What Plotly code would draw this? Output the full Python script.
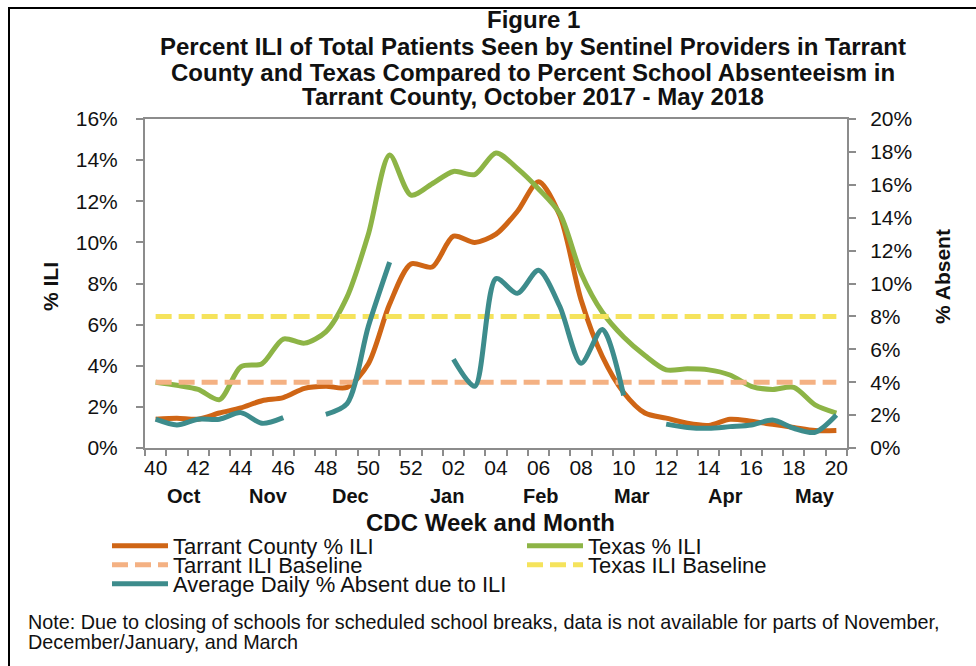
import plotly.graph_objects as go

# ---------------- data ----------------
weeks = ["40", "41", "42", "43", "44", "45", "46", "47", "48", "49", "50", "51", "52",
         "01", "02", "03", "04", "05", "06", "07", "08", "09", "10",
         "11", "12", "13", "14", "15", "16", "17", "18", "19", "20"]

tarrant_ili = [1.4, 1.45, 1.4, 1.7, 1.95, 2.3, 2.45, 2.9, 3.0, 2.95, 4.1, 7.0, 8.95,
               8.8, 10.3, 10.0, 10.4, 11.5, 12.95, 11.3, 7.2, 4.45, 2.7,
               1.7, 1.45, 1.2, 1.1, 1.4, 1.3, 1.15, 1.0, 0.85, 0.85]

texas_ili = [3.2, 3.05, 2.85, 2.35, 3.95, 4.1, 5.3, 5.1, 5.65, 7.35, 10.4, 14.25, 12.3,
             12.85, 13.45, 13.3, 14.35, 13.6, 12.6, 11.4, 8.5, 6.6, 5.4,
             4.5, 3.8, 3.85, 3.8, 3.55, 3.0, 2.85, 2.95, 2.1, 1.7]

absent = [1.75, 1.4, 1.75, 1.75, 2.15, 1.5, 1.85, None, 2.05, 2.7, 7.4, 11.3, None,
          None, 5.4, 3.75, 10.3, 9.4, 10.8, 8.6, 5.15, 7.2, 3.2,
          None, 1.45, 1.25, 1.2, 1.3, 1.4, 1.7, 1.2, 0.95, 2.0]

tarrant_baseline = 3.2
texas_baseline = 6.4

months = ["Oct", "Nov", "Dec", "Jan", "Feb", "Mar", "Apr", "May"]
month_label_pos = [1.35, 5.3, 9.15, 13.7, 18.1, 22.4, 26.8, 31.0]   # position along week axis

left_ticks = [0, 2, 4, 6, 8, 10, 12, 14, 16]
right_ticks = [0, 2, 4, 6, 8, 10, 12, 14, 16, 18, 20]

title_lines = ["Figure 1",
               "Percent ILI of Total Patients Seen by Sentinel Providers in Tarrant",
               "County and Texas Compared to Percent School Absenteeism in",
               "Tarrant County, October 2017 - May 2018"]
note_lines = ["Note: Due to closing of schools for scheduled school breaks, data is not available for parts of November,",
              "December/January, and March"]

# ---------------- layout geometry ----------------
W, H = 976, 666
L, R, T, B = 145, 847, 119, 448
FONT = "Liberation Sans, Arial, sans-serif"

def px(x):
    return (x - L) / (R - L)

def py(y):
    return (B - y) / (B - T)

C_TAR = "#CF6515"
C_TEX = "#8DB446"
C_ABS = "#3D8C8C"
C_TARB = "#F4B183"
C_TEXB = "#F5E35C"
AX = "#8C8C8C"

xi = list(range(len(weeks)))

fig = go.Figure()
fig.add_trace(go.Scatter(x=xi, y=tarrant_ili, name="Tarrant County % ILI", mode="lines",
                         line=dict(color=C_TAR, width=5, shape="spline", smoothing=0.8),
                         legend="legend"))
fig.add_trace(go.Scatter(x=xi, y=texas_ili, name="Texas % ILI", mode="lines",
                         line=dict(color=C_TEX, width=5, shape="spline", smoothing=0.8),
                         legend="legend2"))
fig.add_trace(go.Scatter(x=xi, y=[tarrant_baseline] * len(xi), name="Tarrant ILI Baseline", mode="lines",
                         line=dict(color=C_TARB, width=5, dash="16px,7px"),
                         legend="legend3"))
fig.add_trace(go.Scatter(x=xi, y=[texas_baseline] * len(xi), name="Texas ILI Baseline", mode="lines",
                         line=dict(color=C_TEXB, width=5, dash="16px,7px"),
                         legend="legend4"))
fig.add_trace(go.Scatter(x=xi, y=absent, name="Average Daily % Absent due to ILI", mode="lines",
                         line=dict(color=C_ABS, width=5, shape="spline", smoothing=0.8),
                         connectgaps=False, yaxis="y2", legend="legend5"))

tick_font = dict(family=FONT, size=21, color="#111")

fig.update_layout(
    width=W, height=H,
    margin=dict(l=L, r=W - R, t=T, b=H - B),
    paper_bgcolor="white", plot_bgcolor="white",
    font=dict(family=FONT, color="#111"),
    xaxis=dict(range=[-0.5, len(weeks) - 0.5], tickvals=xi[::2], ticktext=weeks[::2],
               ticks="", showgrid=False, zeroline=False, showline=True, linecolor=AX,
               linewidth=2, mirror=True, tickfont=tick_font,
               minor=dict(ticks="outside", ticklen=6, tickcolor=AX, tickwidth=2,
                          tick0=-0.5, dtick=1, showgrid=False)),
    yaxis=dict(range=[0, 16], tickvals=left_ticks, ticktext=[f"{v}%" for v in left_ticks],
               ticks="outside", ticklen=7, tickcolor=AX, tickwidth=2,
               showgrid=False, zeroline=False, showline=True, linecolor=AX, linewidth=2,
               tickfont=tick_font, ticklabelstandoff=14),
    yaxis2=dict(range=[0, 20], tickvals=right_ticks, ticktext=[f"{v}%" for v in right_ticks],
                overlaying="y", side="right", ticks="outside", ticklen=7, tickcolor=AX,
                tickwidth=2, showgrid=False, zeroline=False, showline=True, linecolor=AX,
                linewidth=2, tickfont=tick_font, ticklabelstandoff=10),
    showlegend=True,
)

leg_common = dict(orientation="h", xref="container", yref="container", xanchor="left",
                  yanchor="middle", itemwidth=56,
                  font=dict(family=FONT, size=22, color="#111"), bgcolor="rgba(0,0,0,0)",
                  itemclick=False, itemdoubleclick=False)
col1, col2 = 107, 522
rows = [546, 565, 584]
fig.update_layout(
    legend=dict(x=col1 / W, y=1 - rows[0] / H, **leg_common),
    legend2=dict(x=col2 / W, y=1 - rows[0] / H, **leg_common),
    legend3=dict(x=col1 / W, y=1 - rows[1] / H, **leg_common),
    legend4=dict(x=col2 / W, y=1 - rows[1] / H, **leg_common),
    legend5=dict(x=col1 / W, y=1 - rows[2] / H, **leg_common),
)

ann = []
for line, yc in zip(title_lines, [20, 46, 72, 97]):
    ann.append(dict(text=f"<b>{line}</b>", x=px(533), y=py(yc), xref="paper", yref="paper",
                    xanchor="center", yanchor="middle", showarrow=False,
                    font=dict(family=FONT, size=24, color="#111")))
for m, pos in zip(months, month_label_pos):
    ann.append(dict(text=f"<b>{m}</b>", x=pos, y=py(496), xref="x", yref="paper",
                    xanchor="center", yanchor="middle", showarrow=False,
                    font=dict(family=FONT, size=20, color="#111")))
ann.append(dict(text="<b>CDC Week and Month</b>", x=px(490), y=py(522), xref="paper", yref="paper",
                xanchor="center", yanchor="middle", showarrow=False,
                font=dict(family=FONT, size=24, color="#111")))
ann.append(dict(text="<b>% ILI</b>", x=px(50), y=py(287), xref="paper", yref="paper",
                xanchor="center", yanchor="middle", showarrow=False, textangle=-90,
                font=dict(family=FONT, size=21, color="#111")))
ann.append(dict(text="<b>% Absent</b>", x=px(942), y=py(277), xref="paper", yref="paper",
                xanchor="center", yanchor="middle", showarrow=False, textangle=-90,
                font=dict(family=FONT, size=21, color="#111")))
for line, yc in zip(note_lines, [622, 642]):
    ann.append(dict(text=line, x=px(26), y=py(yc), xref="paper", yref="paper",
                    xanchor="left", yanchor="middle", showarrow=False,
                    font=dict(family=FONT, size=19.8, color="#111")))
fig.update_layout(annotations=ann)

fig.add_shape(type="rect", xref="paper", yref="paper",
              x0=px(9), x1=px(990), y0=py(680), y1=py(8),
              line=dict(color="black", width=2), fillcolor="rgba(0,0,0,0)", layer="above")

fig.write_html("out.html")
